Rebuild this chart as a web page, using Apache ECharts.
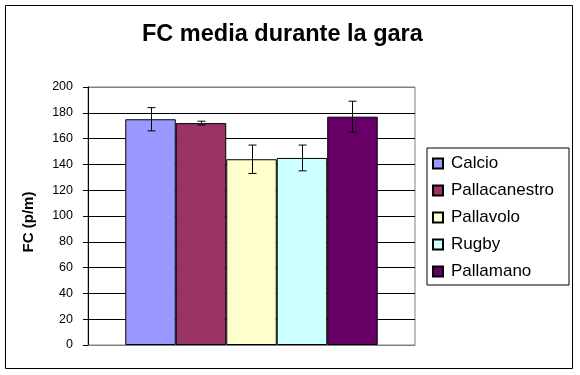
<!DOCTYPE html>
<html>
<head>
<meta charset="utf-8">
<script src="https://cdn.jsdelivr.net/npm/echarts@6/dist/echarts.min.js"></script>
<style>
html,body{margin:0;padding:0;background:#fff;}
#chart{width:580px;height:375px;}
</style>
</head>
<body>
<div id="chart"></div>
<script>
// ---- data ----
var titleText = 'FC media durante la gara';
var yAxisName = 'FC (p/m)';
var sports = ['Calcio', 'Pallacanestro', 'Pallavolo', 'Rugby', 'Pallamano'];
var means = [175, 172, 144, 145, 177];
var errors = [9, 1.5, 11, 10, 12];
var colors = ['#9999FF', '#993366', '#FFFFCC', '#CCFFFF', '#660066'];
var yTicks = [0, 20, 40, 60, 80, 100, 120, 140, 160, 180, 200];

var FONT = '"Liberation Sans", Arial, sans-serif';
var CAT_GAP = 0.228;

var chart = echarts.init(document.getElementById('chart'), null, {renderer: 'canvas'});

var series = sports.map(function (name, i) {
  return {
    name: name,
    type: 'bar',
    data: [means[i]],
    barGap: '0%',
    barCategoryGap: (CAT_GAP * 100) + '%',
    itemStyle: {color: colors[i], borderColor: '#000', borderWidth: 1},
    emphasis: {disabled: true},
    animation: false
  };
});

var errData = sports.map(function (name, i) {
  return [0, means[i] - errors[i], means[i] + errors[i], i];
});

series.push({
  type: 'custom',
  name: 'err',
  data: errData,
  encode: {x: 0, y: [1, 2]},
  z: 10,
  animation: false,
  renderItem: function (params, api) {
    var idx = api.value(3);
    var lo = api.coord([0, api.value(1)]);
    var hi = api.coord([0, api.value(2)]);
    var catW = api.size([1, 0])[0];
    var barW = catW * (1 - CAT_GAP) / sports.length;
    var x = lo[0] + (idx - (sports.length - 1) / 2) * barW;
    x = Math.round(x) + 0.5;
    var cap = 4;
    var st = {stroke: '#000', lineWidth: 1};
    return {
      type: 'group',
      children: [
        {type: 'line', shape: {x1: x, y1: hi[1], x2: x, y2: lo[1]}, style: st},
        {type: 'line', shape: {x1: x - cap, y1: hi[1], x2: x + cap, y2: hi[1]}, style: st},
        {type: 'line', shape: {x1: x - cap, y1: lo[1], x2: x + cap, y2: lo[1]}, style: st}
      ]
    };
  }
});

var splitColors = yTicks.map(function (t, i) {
  return (i === 0 || i === yTicks.length - 1) ? '#808080' : '#000000';
});

var option = {
  backgroundColor: '#fff',
  animation: false,
  textStyle: {fontFamily: FONT},
  title: {
    text: titleText,
    left: 142,
    top: 23,
    padding: 0,
    textStyle: {fontFamily: FONT, fontSize: 23.5, fontWeight: 'bold', color: '#000'}
  },
  legend: {
    data: sports,
    orient: 'vertical',
    left: 427,
    top: 148,
    itemWidth: 10,
    itemHeight: 10,
    itemGap: 10,
    icon: 'rect',
    padding: [7, 15, 5, 5],
    backgroundColor: '#fff',
    borderColor: '#000',
    borderWidth: 1,
    selectedMode: false,
    textStyle: {fontFamily: FONT, fontSize: 17, color: '#000', lineHeight: 17, padding: [0, 0, 0, 3]}
  },
  grid: {
    left: 88,
    top: 87,
    width: 327,
    height: 258,
    show: true,
    backgroundColor: '#fff',
    borderColor: '#808080',
    borderWidth: 1,
    containLabel: false
  },
  xAxis: {
    type: 'category',
    data: [''],
    axisLine: {show: true, lineStyle: {color: '#808080'}},
    axisTick: {show: false},
    axisLabel: {show: false},
    splitLine: {show: false}
  },
  yAxis: {
    type: 'value',
    min: yTicks[0],
    max: yTicks[yTicks.length - 1],
    interval: yTicks[1] - yTicks[0],
    name: yAxisName,
    nameLocation: 'middle',
    nameRotate: 90,
    nameGap: 52,
    nameTextStyle: {fontFamily: FONT, fontSize: 15, fontWeight: 'bold', color: '#000', padding: [0, 12, 0, 0]},
    axisLine: {show: true, lineStyle: {color: '#000'}},
    axisTick: {show: true, inside: false, length: 5, lineStyle: {color: '#000'}},
    axisLabel: {show: true, margin: 15, fontFamily: FONT, fontSize: 12.5, color: '#000'},
    splitLine: {show: true, lineStyle: {color: splitColors, width: 1}}
  },
  graphic: [{
    type: 'rect',
    shape: {x: 5.5, y: 5.5, width: 567, height: 363},
    style: {fill: null, stroke: '#000', lineWidth: 1},
    silent: true,
    z: -1
  }],
  series: series
};

chart.setOption(option);
</script>
</body>
</html>
